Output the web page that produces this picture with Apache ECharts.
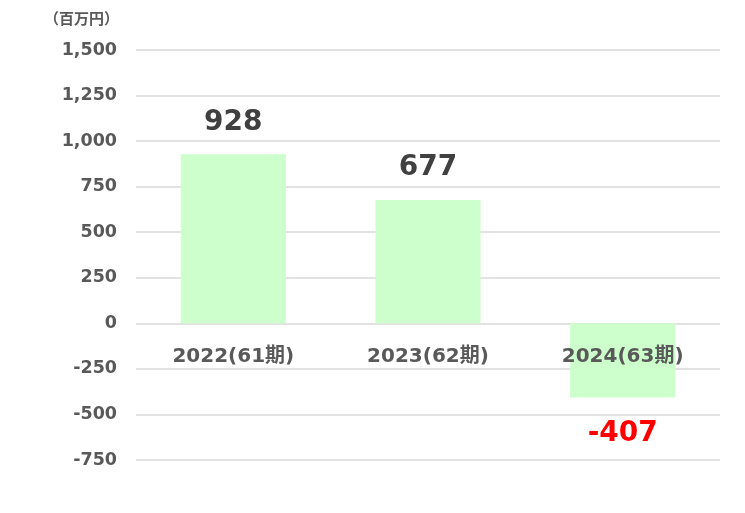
<!DOCTYPE html>
<html><head><meta charset="utf-8">
<script src="https://cdn.jsdelivr.net/npm/echarts@6/dist/echarts.min.js"></script>
<style>html,body{margin:0;padding:0;background:#fff}#c{width:745px;height:513px}</style>
</head><body><div id="c"></div>
<script>
const categories = ['2022(61期)', '2023(62期)', '2024(63期)'];
const values = [928, 677, -407];
const unitLabel = '（百万円）';
const yMin = -750, yMax = 1500, yInterval = 250;

const chart = echarts.init(document.getElementById('c'));
const fontFam = '"DejaVu Sans", Verdana, "Noto Sans CJK JP", sans-serif';
chart.setOption({
  animation: false,
  grid: { left: 136, right: 25, top: 50, bottom: 53 },
  xAxis: {
    type: 'category',
    data: categories,
    axisLine: { show: false },
    axisTick: { show: false },
    axisLabel: { show: false }
  },
  yAxis: {
    type: 'value', min: yMin, max: yMax, interval: yInterval,
    name: unitLabel,
    nameLocation: 'end',
    nameGap: 24,
    nameTextStyle: { fontSize: 15, fontWeight: 'bold', color: '#595959', align: 'right', padding: [0, 17, 0, 0],
      fontFamily: '"Noto Sans CJK JP", sans-serif' },
    axisLine: { show: false }, axisTick: { show: false },
    splitLine: { lineStyle: { color: '#d9d9d9', width: 1.5 } },
    axisLabel: {
      margin: 19, fontSize: 17.5, fontWeight: 'bold', color: '#595959', fontFamily: fontFam,
      formatter: v => v.toLocaleString('en-US')
    }
  },
  series: [{
    type: 'bar',
    barWidth: '54%',
    data: values.map(v => ({
      value: v,
      label: v < 0 ? { position: 'bottom', distance: 22, color: '#ff0000' } : { position: 'top', distance: 18, color: '#404040' }
    })),
    itemStyle: { color: '#ccffcc' },
    label: { show: true, fontSize: 28, fontWeight: 'bold', fontFamily: fontFam }
  }, {
    type: 'bar',
    barWidth: '54%',
    barGap: '-100%',
    z: 10,
    data: categories.map(() => 0),
    itemStyle: { color: 'rgba(0,0,0,0)' },
    label: {
      show: true, position: 'bottom', distance: 23, formatter: '{b}',
      fontSize: 20, fontWeight: 'bold', color: '#595959',
      fontFamily: '"DejaVu Sans", "Noto Sans CJK JP", sans-serif'
    },
    silent: true
  }]
});
</script></body></html>
